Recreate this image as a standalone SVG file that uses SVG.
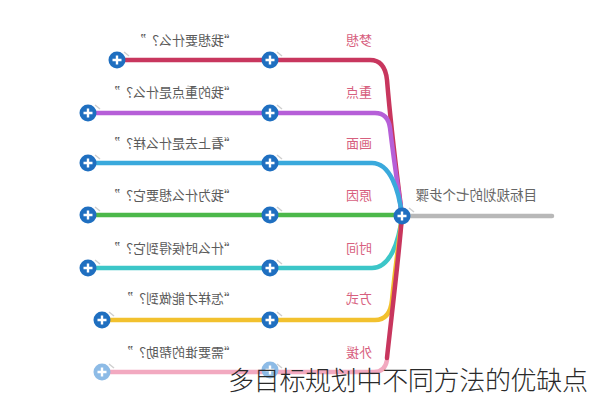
<svg xmlns="http://www.w3.org/2000/svg" width="589" height="400" viewBox="0 0 589 400">
<defs>
<style>
.ln{fill:none;stroke-width:4.5;stroke-linecap:round;stroke-linejoin:round}
.q{font-family:"Noto Sans CJK SC","Noto Sans",sans-serif;font-size:13px;fill:#5a5a5a}
.k{font-family:"Noto Sans CJK SC","Noto Sans",sans-serif;font-size:13px;fill:#d7607e}
.c{font-family:"Noto Sans CJK SC","Noto Sans",sans-serif;font-size:13.5px;fill:#666}
.t{font-family:"Noto Sans CJK SC",sans-serif;font-size:26px;font-weight:300;fill:#2a2a2a}
.tick{stroke:#cfcfcf;stroke-width:1.5;fill:none}
</style>
<g id="plus">
<circle r="8.5" fill="#1f6fc0"/>
<path d="M-4.5 0H4.5M0 -4.5V4.5" stroke="#fff" stroke-width="2.4"/>
</g>
<g id="plusL">
<circle r="8.5" fill="#8dbbe6"/>
<path d="M-4.5 0H4.5M0 -4.5V4.5" stroke="#fff" stroke-width="2.4"/>
</g>
</defs>
<rect width="589" height="400" fill="#fff"/>
<g id="connectors">
<path class="ln" stroke="#b8b8b8" d="M402 216H552"/>
<path class="ln" stroke="#c8365e" d="M117 60H370Q385 60 387 80C392 140 399 190 402 216"/>
<path class="ln" stroke="#b65fd8" d="M88 113H375Q388 113 390 128C395 170 400 200 402 216"/>
<path class="ln" stroke="#3aa9dc" d="M88 163H372C390 163 399 190 402 216"/>
<path class="ln" stroke="#4cb84a" d="M88 215H402"/>
<path class="ln" stroke="#3cc6c8" d="M88 268H372C390 268 399 242 402 216"/>
<path class="ln" stroke="#f2c12e" d="M102 320H375Q390 320 392 300C396 260 400 235 402 216"/>
<path class="ln" stroke="#f2a9c0" d="M102 372H374Q385 372 387 360"/>
<path class="ln" stroke="#c8365e" d="M402 216C398 265 391 320 387 358"/>
<path class="tick" d="M124 52l5 4M277 52l5 4M95 105l5 4M277 105l5 4M95 155l5 4M277 155l5 4M95 207l5 4M277 207l5 4M409 208l5 4M95 260l5 4M277 260l5 4M109 312l5 4M277 312l5 4M109 364l5 4M277 364l5 4"/>
</g>
<g id="hub"><use href="#plus" x="402" y="216"/><text class="c" transform="translate(537 200) scale(-1 1)">目标规划的七个步骤</text></g>
<g id="r1"><use href="#plus" x="117" y="60"/><use href="#plus" x="270" y="60"/><text class="q" transform="translate(237 45) scale(-1 1)">“我想要什么？”</text><text class="k" transform="translate(372 45) scale(-1 1)">梦想</text></g>
<g id="r2"><use href="#plus" x="88" y="113"/><use href="#plus" x="270" y="113"/><text class="q" transform="translate(237 97) scale(-1 1)">“我的重点是什么？”</text><text class="k" transform="translate(372 97) scale(-1 1)">重点</text></g>
<g id="r3"><use href="#plus" x="88" y="163"/><use href="#plus" x="270" y="163"/><text class="q" transform="translate(237 148) scale(-1 1)">“看上去是什么样？”</text><text class="k" transform="translate(372 148) scale(-1 1)">画面</text></g>
<g id="r4"><use href="#plus" x="88" y="215"/><use href="#plus" x="270" y="215"/><text class="q" transform="translate(237 200) scale(-1 1)">“我为什么想要它？”</text><text class="k" transform="translate(372 200) scale(-1 1)">原因</text></g>
<g id="r5"><use href="#plus" x="88" y="268"/><use href="#plus" x="270" y="268"/><text class="q" transform="translate(237 253) scale(-1 1)">“什么时候得到它？”</text><text class="k" transform="translate(372 253) scale(-1 1)">时间</text></g>
<g id="r6"><use href="#plus" x="102" y="320"/><use href="#plus" x="270" y="320"/><text class="q" transform="translate(237 303) scale(-1 1)">“怎样才能做到？”</text><text class="k" transform="translate(372 303) scale(-1 1)">方式</text></g>
<g id="r7"><use href="#plusL" x="102" y="372"/><use href="#plusL" x="270" y="370"/><text class="q" transform="translate(237 357) scale(-1 1)">“需要谁的帮助？”</text><text class="k" transform="translate(372 357) scale(-1 1)">外援</text></g>
<text class="t" x="228" y="390" textLength="360">多目标规划中不同方法的优缺点</text>
</svg>
